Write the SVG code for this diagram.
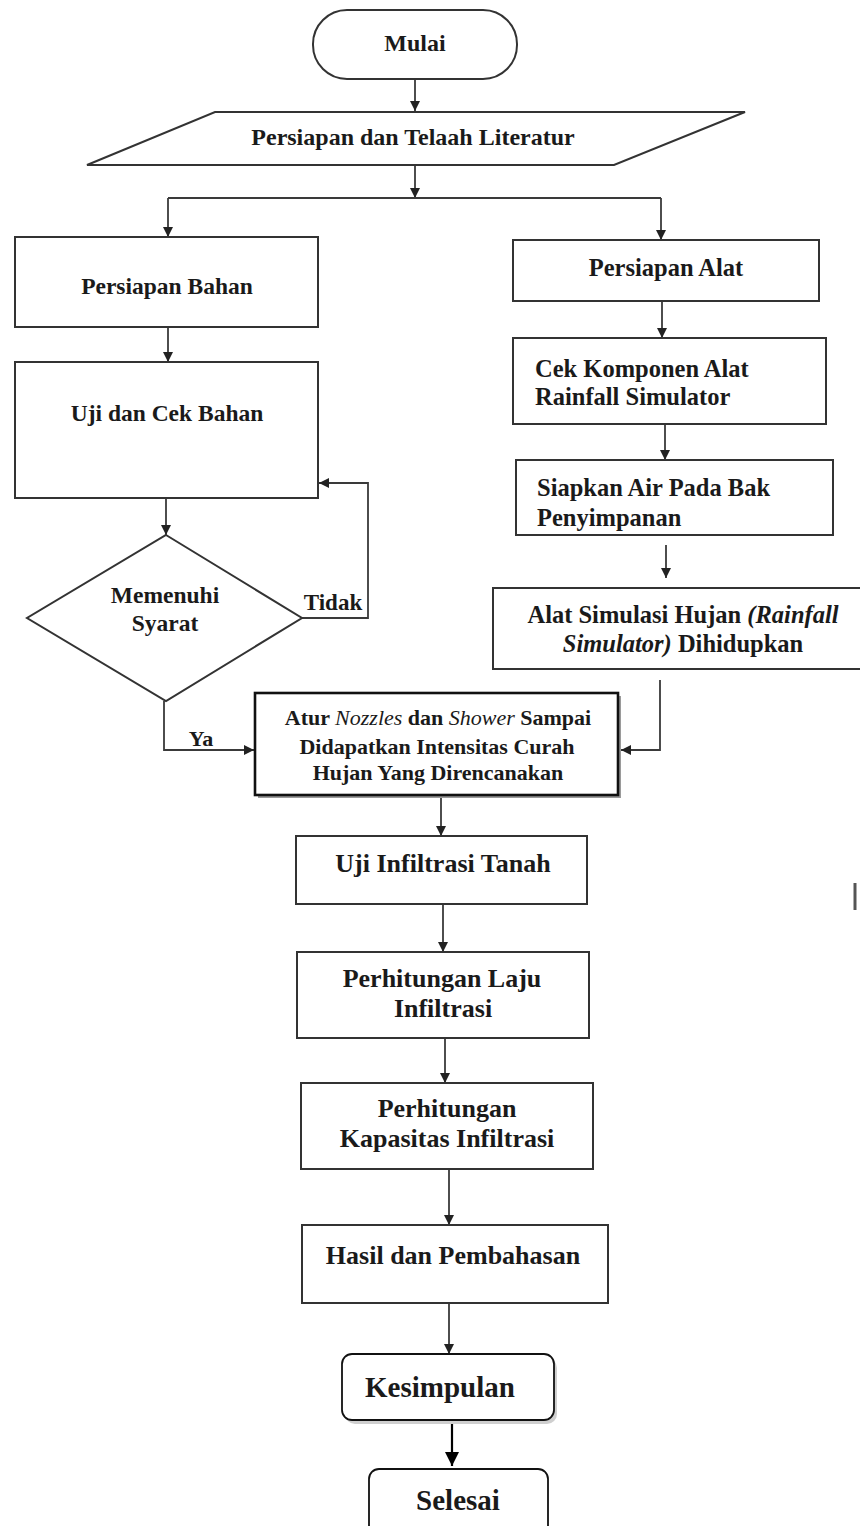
<svg xmlns="http://www.w3.org/2000/svg" width="860" height="1526" viewBox="0 0 860 1526">
<defs>
<style>
.box{fill:#fff;stroke:#333;stroke-width:2}
.conn{fill:none;stroke:#3a3a3a;stroke-width:1.8}
.t{font-family:"Liberation Serif","Times New Roman",serif;font-weight:bold;fill:#1a1a1a;text-anchor:middle;dominant-baseline:central}
.tl{text-anchor:start}
.it{font-style:italic}
.itn{font-style:italic;font-weight:normal}
</style>
<marker id="ah" viewBox="0 0 10 10" refX="10" refY="5" markerWidth="10" markerHeight="10" markerUnits="userSpaceOnUse" orient="auto">
<path d="M0,0 L10,5 L0,10 z" fill="#222"/>
</marker>
<marker id="ahb" viewBox="0 0 10 10" refX="10" refY="5" markerWidth="16" markerHeight="14" markerUnits="userSpaceOnUse" orient="auto">
<path d="M0,0 L10,5 L0,10 z" fill="#000"/>
</marker>
</defs>
<rect width="860" height="1526" fill="#fff"/>

<g id="connectors">
<path class="conn" d="M415,79 V111" marker-end="url(#ah)"/>
<path class="conn" d="M415,165 V198" marker-end="url(#ah)"/>
<path class="conn" d="M168,198 H661"/>
<path class="conn" d="M168,198 V237" marker-end="url(#ah)"/>
<path class="conn" d="M661,198 V240" marker-end="url(#ah)"/>
<path class="conn" d="M168,327 V362" marker-end="url(#ah)"/>
<path class="conn" d="M166,498 V535" marker-end="url(#ah)"/>
<path class="conn" d="M302,618 H368 V483 H319" marker-end="url(#ah)"/>
<path class="conn" d="M164,701 V750 H254" marker-end="url(#ah)"/>
<path class="conn" d="M662,301 V338" marker-end="url(#ah)"/>
<path class="conn" d="M665,424 V460" marker-end="url(#ah)"/>
<path class="conn" d="M666,545 V578" marker-end="url(#ah)"/>
<path class="conn" d="M660,680 V750 H621" marker-end="url(#ah)"/>
<path class="conn" d="M441,795 V836" marker-end="url(#ah)"/>
<path class="conn" d="M443,904 V952" marker-end="url(#ah)"/>
<path class="conn" d="M445,1038 V1083" marker-end="url(#ah)"/>
<path class="conn" d="M449,1169 V1225" marker-end="url(#ah)"/>
<path class="conn" d="M449,1303 V1354" marker-end="url(#ah)"/>
<path d="M452,1420 V1466" fill="none" stroke="#000" stroke-width="2.2" marker-end="url(#ahb)"/>
</g>

<g id="mulai">
<rect class="box" x="313" y="10" width="204" height="69" rx="34"/>
<text class="t" x="415" y="43" font-size="24">Mulai</text>
</g>

<g id="telaah">
<polygon class="box" points="215,112 745,112 614,165 87,165"/>
<text class="t" x="413" y="137" font-size="24">Persiapan dan Telaah Literatur</text>
</g>

<g id="bahan">
<rect class="box" x="15" y="237" width="303" height="90"/>
<text class="t" x="167" y="286" font-size="23.5">Persiapan Bahan</text>
</g>

<g id="uji-bahan">
<rect class="box" x="15" y="362" width="303" height="136"/>
<text class="t" x="167" y="413" font-size="23.5">Uji dan Cek Bahan</text>
</g>

<g id="syarat">
<polygon class="box" points="166,535 302,618 166,701 27,618"/>
<text class="t" x="165" y="595" font-size="23.5">Memenuhi</text>
<text class="t" x="165" y="623" font-size="23.5">Syarat</text>
</g>

<g id="label-tidak">
<text class="t" x="333" y="602" font-size="23">Tidak</text>
</g>
<g id="label-ya">
<text class="t" x="201" y="738" font-size="22">Ya</text>
</g>

<g id="alat">
<rect class="box" x="513" y="240" width="306" height="61"/>
<text class="t" x="666" y="267" font-size="24.5">Persiapan Alat</text>
</g>

<g id="cek-komponen">
<rect class="box" x="513" y="338" width="313" height="86"/>
<text class="t tl" x="535" y="368" font-size="24.5">Cek Komponen Alat</text>
<text class="t tl" x="535" y="396" font-size="24.5">Rainfall Simulator</text>
</g>

<g id="siapkan-air">
<rect class="box" x="516" y="460" width="317" height="75"/>
<text class="t tl" x="537" y="487" font-size="24.5">Siapkan Air Pada Bak</text>
<text class="t tl" x="537" y="517" font-size="24.5">Penyimpanan</text>
</g>

<g id="simulator">
<rect class="box" x="493" y="588" width="380" height="81"/>
<text class="t" x="683" y="614" font-size="24.5">Alat Simulasi Hujan <tspan class="it">(Rainfall</tspan></text>
<text class="t" x="683" y="643" font-size="24.5"><tspan class="it">Simulator)</tspan> Dihidupkan</text>
</g>

<g id="atur">
<rect x="258" y="696" width="363" height="102" fill="#9a9a9a"/>
<rect x="255" y="693" width="363" height="102" fill="#fff" stroke="#111" stroke-width="2.6"/>
<text class="t" x="438" y="717" font-size="22">Atur <tspan class="itn">Nozzles</tspan> dan <tspan class="itn">Shower</tspan> Sampai</text>
<text class="t" x="437" y="746" font-size="22">Didapatkan Intensitas Curah</text>
<text class="t" x="438" y="772" font-size="22">Hujan Yang Direncanakan</text>
</g>

<g id="uji-infiltrasi">
<rect class="box" x="296" y="836" width="291" height="68"/>
<text class="t" x="443" y="863" font-size="26">Uji Infiltrasi Tanah</text>
</g>

<g id="laju">
<rect class="box" x="297" y="952" width="292" height="86"/>
<text class="t" x="442" y="978" font-size="26">Perhitungan Laju</text>
<text class="t" x="443" y="1008" font-size="26">Infiltrasi</text>
</g>

<g id="kapasitas">
<rect class="box" x="301" y="1083" width="292" height="86"/>
<text class="t" x="447" y="1108" font-size="26">Perhitungan</text>
<text class="t" x="447" y="1138" font-size="26">Kapasitas Infiltrasi</text>
</g>

<g id="hasil">
<rect class="box" x="302" y="1225" width="306" height="78"/>
<text class="t" x="453" y="1255" font-size="26">Hasil dan Pembahasan</text>
</g>

<g id="kesimpulan">
<rect x="345" y="1358" width="212" height="66" rx="10" fill="#cfcfcf"/>
<rect x="342" y="1354" width="212" height="66" rx="10" fill="#fff" stroke="#111" stroke-width="1.8"/>
<text class="t" x="440" y="1387" font-size="29">Kesimpulan</text>
</g>

<g id="selesai">
<rect x="369" y="1469" width="179" height="75" rx="10" fill="#fff" stroke="#111" stroke-width="1.8"/>
<text class="t" x="458" y="1500" font-size="29">Selesai</text>
</g>

<g id="mark">
<line x1="855" y1="883" x2="855" y2="910" stroke="#555" stroke-width="3"/>
</g>
</svg>
